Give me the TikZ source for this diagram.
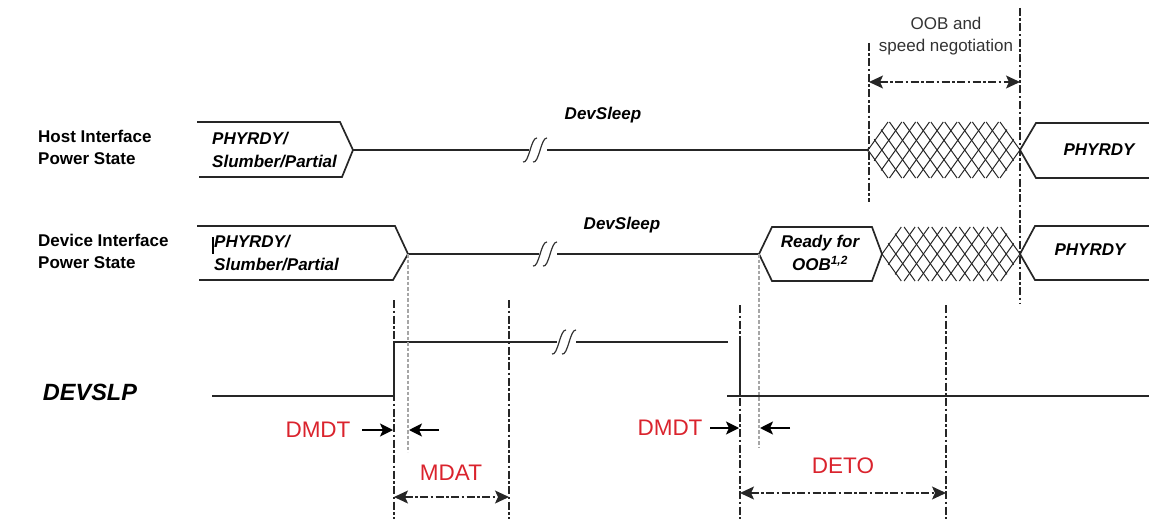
\documentclass[tikz,border=0pt]{standalone}
\usepackage{fontspec}
\setmainfont{Liberation Sans}
\usetikzlibrary{arrows.meta}
\definecolor{tred}{RGB}{218,35,45}
\newcommand\tkbrk[2]{%
  \draw[brkmark] (#1-14,#2+12) .. controls (#1-8,#2+14) and (#1-6,#2-13) .. (#1,#2-12);
  \draw[brkmark] (#1-4,#2+12) .. controls (#1+2,#2+14) and (#1+4,#2-13) .. (#1+10,#2-12);
}
\begin{document}
\begin{tikzpicture}[x=1pt,y=-1pt,
  sig/.style={line width=1.7pt,draw=black!85},
  vdd/.style={line width=1.4pt,draw=black!85,dash pattern=on 8pt off 2.5pt on 2.5pt off 2.5pt},
  gdd/.style={line width=1.4pt,draw=black!35,dash pattern=on 3.5pt off 2pt},
  hatchline/.style={line width=1pt,draw=black!85},
  brkmark/.style={line width=1.2pt,draw=black!80},
  tip/.style={line width=1.6pt,draw=black,-{Stealth[length=13pt,width=13pt,inset=3pt]}},
  dimline/.style={vdd,{Stealth[length=14pt,width=13pt,inset=3pt]}-{Stealth[length=14pt,width=13pt,inset=3pt]}},
  rowlbl/.style={font=\fontsize{17}{22}\selectfont\bfseries,align=left,anchor=west,inner sep=0pt},
  st/.style={font=\fontsize{17}{22.5}\selectfont\bfseries\itshape,align=left,inner sep=0pt},
  plain/.style={font=\fontsize{17}{22.5}\selectfont,align=center,inner sep=0pt,text=black!80},
  redlbl/.style={font=\fontsize{22.5}{24}\selectfont,text=tred,inner sep=0pt},
]
\useasboundingbox (0,0) rectangle (1149,519);

% ---------- row labels ----------
\node[rowlbl] (hostlbl) at (38,147) {Host Interface\\Power State};
\node[rowlbl] (devlbl) at (38,251) {Device Interface\\Power State};
\node[font=\fontsize{23.5}{26}\selectfont\bfseries\itshape,inner sep=0pt] (devslp) at (90,392) {DEVSLP};

% ---------- host row ----------
\coordinate (h0) at (197,122);
\coordinate (h1) at (340,122);
\coordinate (hp) at (353,150);
\coordinate (h2) at (342,177);
\coordinate (h3) at (199,177);
\draw[sig] (h0) -- (h1) -- (hp) -- (h2) -- (h3);
\node[st,anchor=west] (hostst) at (212,150) {PHYRDY/\\Slumber/Partial};
\coordinate (hb1) at (529,150);
\coordinate (hb2) at (547,150);
\coordinate (hx) at (868,150);
\draw[sig] (hp) -- (hb1);
\draw[sig] (hb2) -- (hx);
\tkbrk{537}{150}
\node[st] (dsh) at (603,115) {DevSleep};

% host hatch
\begin{scope}
\clip (866.5,150) -- (887.5,120.5) -- (1000.5,120.5) -- (1021.5,150) -- (1000.5,179.5) -- (887.5,179.5) -- cycle;
\foreach \k in {-3,...,14} {
  \pgfmathsetmacro\a{848+\k*13.818}
  \draw[hatchline] (\a,178) -- (\a+40,122);
  \draw[hatchline] (\a,122) -- (\a+40,178);
}
\end{scope}

% host PHYRDY
\coordinate (hr0) at (1149,123);
\coordinate (hr1) at (1036,123);
\coordinate (hrp) at (1020,150);
\coordinate (hr2) at (1036,178);
\coordinate (hr3) at (1149,178);
\draw[sig] (hr0) -- (hr1) -- (hrp) -- (hr2) -- (hr3);
\node[st] (phyh) at (1099,150) {PHYRDY};

% ---------- device row ----------
\coordinate (d0) at (197,226);
\coordinate (d1) at (395,226);
\coordinate (dp) at (408,254);
\coordinate (d2) at (393,280);
\coordinate (d3) at (199,280);
\draw[sig] (d0) -- (d1) -- (dp) -- (d2) -- (d3);
\coordinate (tk0) at (213,237);
\coordinate (tk1) at (213,254);
\draw[line width=1.1pt] (tk0) -- (tk1);
\node[st,anchor=west] (devst) at (214,253) {PHYRDY/\\Slumber/Partial};
\coordinate (db1) at (539,254);
\coordinate (db2) at (557,254);
\coordinate (rp0) at (759,254);
\draw[sig] (dp) -- (db1);
\draw[sig] (db2) -- (rp0);
\tkbrk{547}{254}
\node[st] (dsd) at (622,225) {DevSleep};

% Ready for OOB
\coordinate (r1) at (772,227);
\coordinate (r2) at (872,227);
\coordinate (rp1) at (882,254);
\coordinate (r3) at (872,281);
\coordinate (r4) at (772,281);
\draw[sig] (rp0) -- (r1) -- (r2) -- (rp1) -- (r3) -- (r4) -- cycle;
\node[st,align=center] (ready) at (820,253) {Ready for\\OOB\textsuperscript{1,2}};

% device hatch
\begin{scope}
\clip (880.5,254) -- (900.8,225.5) -- (1001.2,225.5) -- (1021.5,254) -- (1001.2,282.5) -- (900.8,282.5) -- cycle;
\foreach \k in {-3,...,13} {
  \pgfmathsetmacro\a{862.7+\k*13.8}
  \draw[hatchline] (\a,281) -- (\a+38.6,227);
  \draw[hatchline] (\a,227) -- (\a+38.6,281);
}
\end{scope}

% device PHYRDY
\coordinate (dr0) at (1149,226);
\coordinate (dr1) at (1035,226);
\coordinate (drp) at (1020,254);
\coordinate (dr2) at (1035,280);
\coordinate (dr3) at (1149,280);
\draw[sig] (dr0) -- (dr1) -- (drp) -- (dr2) -- (dr3);
\node[st] (phyd) at (1090,250) {PHYRDY};

% ---------- OOB negotiation ----------
\coordinate (o1t) at (869,43);
\coordinate (o1b) at (869,202);
\coordinate (o2t) at (1020,8);
\coordinate (o2b) at (1020,303);
\draw[vdd] (o1t) -- (o1b);
\draw[vdd] (o2t) -- (o2b);
\coordinate (oa1) at (869,82);
\coordinate (oa2) at (1020,82);
\draw[dimline] (oa1) -- (oa2);
\node[plain] (oobtxt) at (946,36) {OOB and\\speed negotiation};

% ---------- DEVSLP signal ----------
\coordinate (s0) at (212,396);
\coordinate (s1) at (394,396);
\coordinate (s2) at (394,342);
\coordinate (sb1) at (557,342);
\coordinate (sb2) at (576,342);
\coordinate (s3) at (728,342);
\coordinate (f0) at (740,338);
\coordinate (f1) at (740,396);
\coordinate (l0) at (727,396);
\coordinate (l1) at (1149,396);
\draw[sig] (s0) -- (s1) -- (s2) -- (sb1);
\draw[sig] (sb2) -- (s3);
\tkbrk{566}{342}
\draw[sig] (f0) -- (f1);
\draw[sig] (l0) -- (l1);

% ---------- vertical markers ----------
\coordinate (v1t) at (394,300);  \coordinate (v1b) at (394,519);
\coordinate (v2t) at (509,300);  \coordinate (v2b) at (509,519);
\coordinate (v3t) at (740,305);  \coordinate (v3b) at (740,519);
\coordinate (v4t) at (946,305);  \coordinate (v4b) at (946,519);
\draw[vdd] (v1t) -- (v1b);
\draw[vdd] (v2t) -- (v2b);
\draw[vdd] (v3t) -- (v3b);
\draw[vdd] (v4t) -- (v4b);
\coordinate (g1b) at (408,452);
\coordinate (g2b) at (759,447);
\draw[gdd] (dp) -- (g1b);
\draw[gdd] (rp0) -- (g2b);

% ---------- timing labels ----------
\node[redlbl] (dmdt1) at (318,430) {DMDT};
\coordinate (a1s) at (362,430); \coordinate (a1e) at (393,430);
\coordinate (a2s) at (439,430); \coordinate (a2e) at (409,430);
\draw[tip] (a1s) -- (a1e);
\draw[tip] (a2s) -- (a2e);

\node[redlbl] (dmdt2) at (670,428) {DMDT};
\coordinate (a3s) at (710,428); \coordinate (a3e) at (739,428);
\coordinate (a4s) at (790,428); \coordinate (a4e) at (760,428);
\draw[tip] (a3s) -- (a3e);
\draw[tip] (a4s) -- (a4e);

\node[redlbl] (mdat) at (451,473) {MDAT};
\coordinate (m1) at (394,497); \coordinate (m2) at (509,497);
\draw[dimline] (m1) -- (m2);

\node[redlbl] (deto) at (843,466) {DETO};
\coordinate (e1) at (740,493); \coordinate (e2) at (946,493);
\draw[dimline] (e1) -- (e2);
\end{tikzpicture}
\end{document}
